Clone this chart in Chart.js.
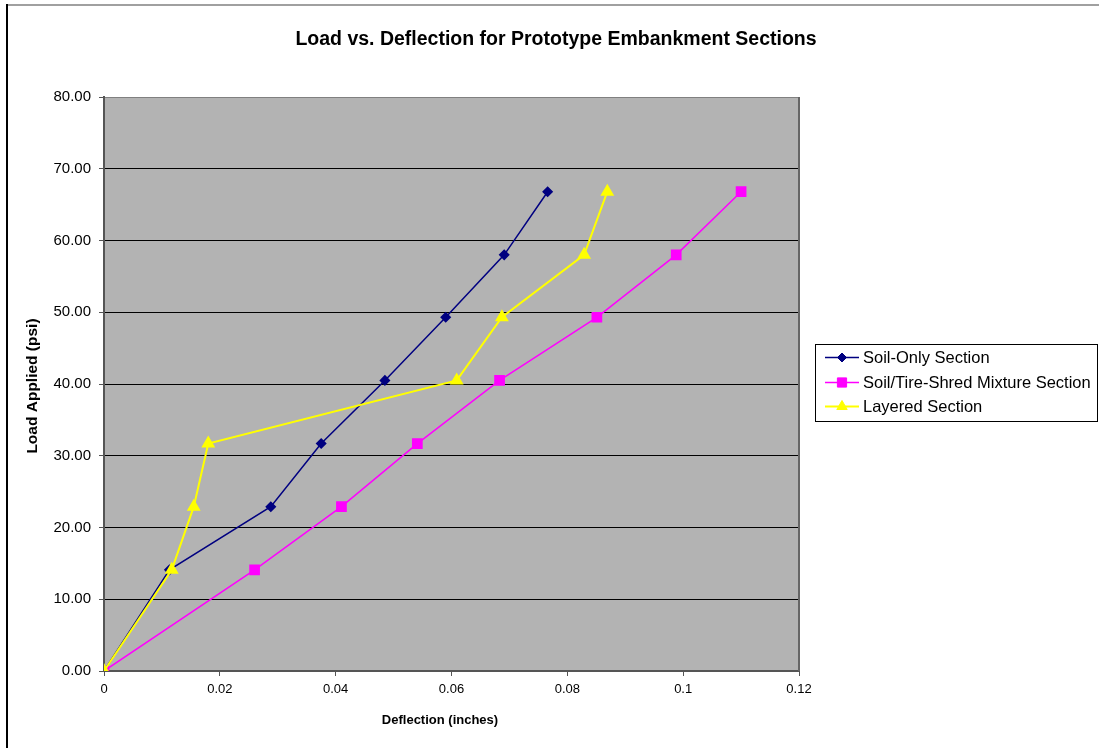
<!DOCTYPE html>
<html>
<head>
<meta charset="utf-8">
<script src="https://cdn.jsdelivr.net/npm/chart.js@4.4.1/dist/chart.umd.min.js"></script>
<style>
  html, body { margin: 0; padding: 0; background: #ffffff; }
  #wrap { width: 1099px; height: 748px; position: relative; }
</style>
</head>
<body>
<div id="wrap"><canvas id="c" width="1099" height="748"></canvas></div>
<script>
// Applied load steps (psi), shared by every section
const loads = [0, 14.1, 22.9, 31.7, 40.5, 49.3, 58.0, 66.8];

// Measured deflection (inches) at each load step
const soilOnly = [0, 0.0113, 0.0288, 0.0375, 0.0485, 0.0590, 0.0691, 0.0766];
const tireShredMix = [0, 0.0260, 0.0410, 0.0541, 0.0683, 0.0851, 0.0988, 0.1100];
const layered = [0, 0.0117, 0.0155, 0.0180, 0.0609, 0.0687, 0.0829, 0.0869];

const seriesNames = ['Soil-Only Section', 'Soil/Tire-Shred Mixture Section', 'Layered Section'];

const xTicks = [0, 0.02, 0.04, 0.06, 0.08, 0.1, 0.12];
const yTicks = [0, 10, 20, 30, 40, 50, 60, 70, 80];

const FONT = 'Arial, "Liberation Sans", sans-serif';

function pts(xs) { return xs.map((x, i) => ({ x: x, y: loads[i] })); }

// Frame, title, axis titles, plot edge and legend
const decor = {
  id: 'decor',
  beforeDraw(chart) {
    const ctx = chart.ctx, a = chart.chartArea;
    ctx.save();
    ctx.fillStyle = '#ffffff';
    ctx.fillRect(0, 0, chart.width, chart.height);
    ctx.fillStyle = '#b3b3b3';
    ctx.fillRect(a.left, a.top, a.right - a.left, a.bottom - a.top);
    // outer frame
    ctx.strokeStyle = '#808080';
    ctx.lineWidth = 1.5;
    ctx.beginPath(); ctx.moveTo(6, 5); ctx.lineTo(chart.width, 5); ctx.stroke();
    ctx.strokeStyle = '#000000';
    ctx.lineWidth = 2;
    ctx.beginPath(); ctx.moveTo(7, 4); ctx.lineTo(7, chart.height); ctx.stroke();
    ctx.restore();
  },
  afterDraw(chart) {
    const ctx = chart.ctx, a = chart.chartArea;
    ctx.save();
    // right edge of plot area
    ctx.strokeStyle = '#666666';
    ctx.lineWidth = 2;
    ctx.beginPath(); ctx.moveTo(a.right, a.top); ctx.lineTo(a.right, a.bottom); ctx.stroke();

    ctx.fillStyle = '#000000';
    ctx.textAlign = 'center';
    ctx.textBaseline = 'middle';
    ctx.font = 'bold 19.5px ' + FONT;
    ctx.fillText('Load vs. Deflection for Prototype Embankment Sections', 556, 40);

    ctx.font = 'bold 13px ' + FONT;
    ctx.fillText('Deflection (inches)', 440, 720);
    ctx.save();
    ctx.font = 'bold 15.5px ' + FONT;
    ctx.translate(33, 386);
    ctx.rotate(-Math.PI / 2);
    ctx.fillText('Load Applied (psi)', 0, 0);
    ctx.restore();

    // legend
    const lx = 815.5, ly = 344.5, lw = 282, lh = 77;
    ctx.fillStyle = '#ffffff';
    ctx.fillRect(lx, ly, lw, lh);
    ctx.strokeStyle = '#000000';
    ctx.lineWidth = 1;
    ctx.strokeRect(lx, ly, lw, lh);
    const rows = [357.5, 382.5, 406.5];
    ctx.textAlign = 'left';
    seriesNames.forEach((name, r) => {
      const ds = chart.data.datasets.find(d => d.label === name);
      const y = rows[r];
      ctx.strokeStyle = ds.borderColor;
      ctx.lineWidth = ds.borderWidth;
      ctx.beginPath(); ctx.moveTo(825, y); ctx.lineTo(859, y); ctx.stroke();
      ctx.fillStyle = ds.pointBackgroundColor;
      ctx.strokeStyle = ds.pointBorderColor;
      ctx.lineWidth = 1;
      Chart.helpers.drawPoint(ctx, {
        pointStyle: ds.pointStyle, radius: ds.pointRadius, borderWidth: 1, rotation: 0
      }, 842, y);
      ctx.fillStyle = '#000000';
      ctx.font = '16.5px ' + FONT;
      ctx.fillText(ds.label, 863, y + 1);
    });
    ctx.restore();
  }
};

const chart = new Chart(document.getElementById('c'), {
  type: 'line',
  data: {
    datasets: [
      {
        label: seriesNames[0], data: pts(soilOnly),
        borderColor: '#000080', backgroundColor: '#000080',
        pointBackgroundColor: '#000080', pointBorderColor: '#000080',
        borderWidth: 1.5, pointStyle: 'rectRot', pointRadius: 4.5, order: 2
      },
      {
        label: seriesNames[1], data: pts(tireShredMix),
        borderColor: '#ff00ff', backgroundColor: '#ff00ff',
        pointBackgroundColor: '#ff00ff', pointBorderColor: '#ff00ff',
        borderWidth: 1.5, pointStyle: 'rect', pointRadius: 6.5, order: 1
      },
      {
        label: seriesNames[2], data: pts(layered),
        borderColor: '#ffff00', backgroundColor: '#ffff00',
        pointBackgroundColor: '#ffff00', pointBorderColor: '#ffff00',
        borderWidth: 2, pointStyle: 'triangle', pointRadius: 6, order: 0
      }
    ]
  },
  options: {
    responsive: false,
    animation: false,
    devicePixelRatio: 1,
    layout: { padding: { top: 97, right: 300, left: 0, bottom: 0 } },
    elements: { line: { tension: 0, fill: false } },
    plugins: { legend: { display: false }, title: { display: false }, tooltip: { enabled: false } },
    scales: {
      x: {
        type: 'linear', min: 0, max: 0.12,
        afterFit(s) { s.height = 77; },
        afterBuildTicks(s) { s.ticks = xTicks.map(v => ({ value: v })); },
        ticks: {
          color: '#000000', font: { family: FONT, size: 13 }, padding: 6,
          callback: v => String(Math.round(v * 100) / 100)
        },
        grid: { drawOnChartArea: false, drawTicks: true, tickLength: 5, tickColor: '#555555', tickWidth: 1 },
        border: { display: true, color: '#555555', width: 2 }
      },
      y: {
        type: 'linear', min: 0, max: 80,
        afterFit(s) { s.width = 104; },
        afterBuildTicks(s) { s.ticks = yTicks.map(v => ({ value: v })); },
        ticks: {
          color: '#000000', font: { family: FONT, size: 15 }, padding: 8,
          callback: v => Number(v).toFixed(2)
        },
        grid: {
          color: c => (c.tick && c.tick.value === 80) ? '#808080' : '#000000',
          lineWidth: 1, drawTicks: true, tickLength: 5, tickColor: '#555555'
        },
        border: { display: true, color: '#555555', width: 2 }
      }
    }
  },
  plugins: [decor]
});
</script>
</body>
</html>
